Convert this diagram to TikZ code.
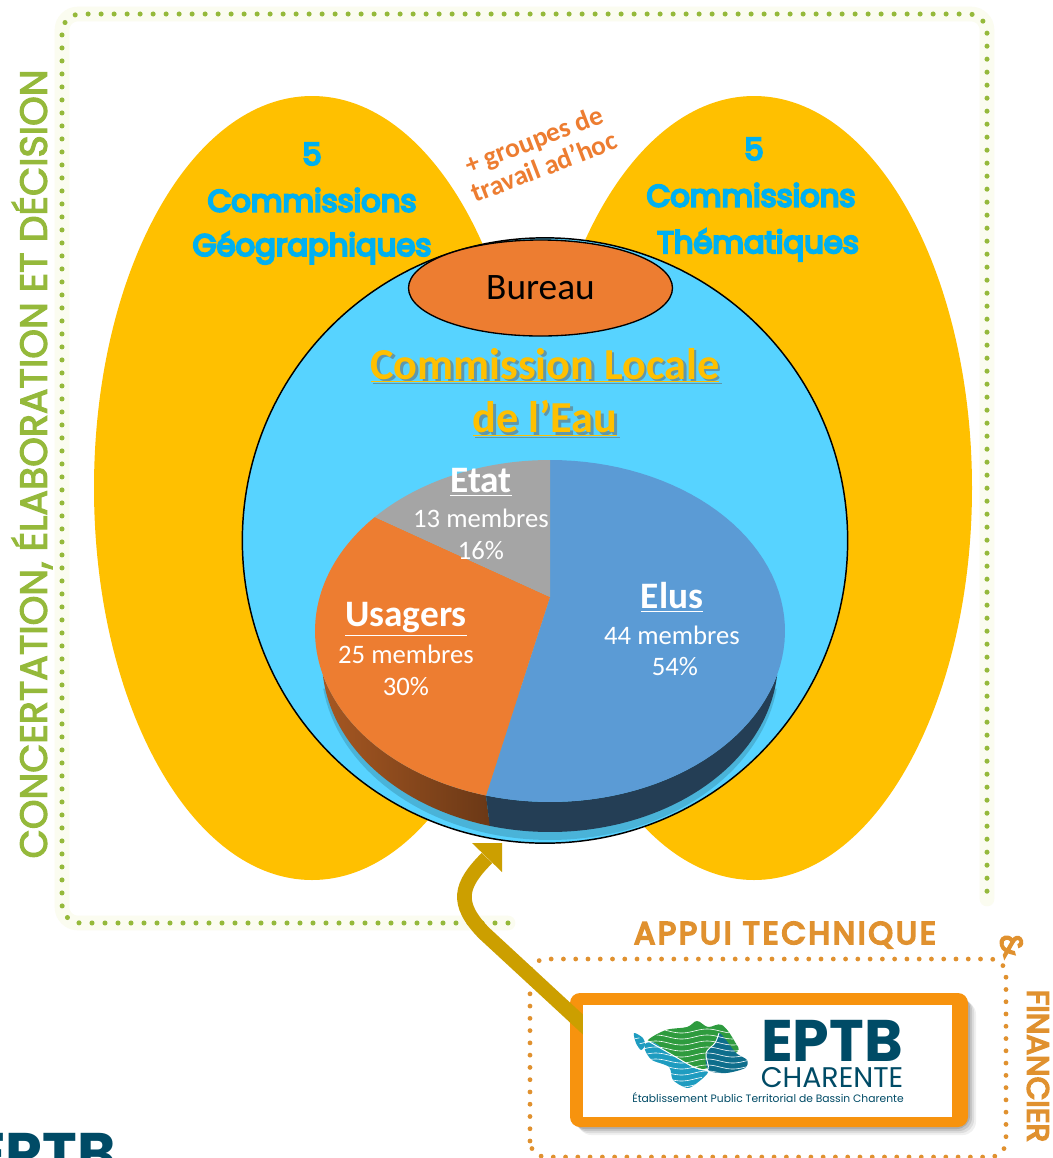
\documentclass[tikz,border=0pt]{standalone}
\usetikzlibrary{shapes.geometric}
\usepackage{fontspec}
\setmainfont{Carlito}
\newfontfamily\geo{Poppins}
\newfontfamily\geoC{Poppins}[FakeBold=7]
\newfontfamily\geoS{Poppins}[FakeBold=3]
\newfontfamily\geoA{Poppins}[FakeBold=6,LetterSpace=9]
\newfontfamily\geoF{Poppins}[FakeBold=5]
\newcommand\fsz[1]{\fontsize{#1}{#1}\selectfont}
\definecolor{gold}{HTML}{FFC000}
\definecolor{sky}{HTML}{57D3FF}
\definecolor{cyanT}{HTML}{00B0F0}
\definecolor{oran}{HTML}{ED7D31}
\definecolor{blueP}{HTML}{5B9BD5}
\definecolor{greyP}{HTML}{A5A5A5}
\definecolor{greenF}{HTML}{95B93B}
\definecolor{halo}{HTML}{FBFCF0}
\definecolor{oranF}{HTML}{E0912F}
\definecolor{arrowG}{HTML}{CC9F00}
\definecolor{boxO}{HTML}{F7930E}
\definecolor{teal}{HTML}{004B66}
\definecolor{shadowB}{HTML}{4AB3D8}
\definecolor{mapG}{HTML}{2E9B3E}
\definecolor{mapT}{HTML}{0E6E8C}
\definecolor{mapB}{HTML}{1E9CC0}
\tikzset{
  x=.75pt,y=-.75pt,
  lobe/.style={fill=gold,draw=none},
  comm/.style={text=cyanT,font=\geoC\fsz{23}},
  whiteB/.style={text=white,font=\bfseries\fsz{28}},
  whiteN/.style={text=white,font=\fsz{20}},
  clet/.style={text=gold,font=\bfseries\fsz{33.2}},
  cletS/.style={text=black!60,opacity=.55,font=\bfseries\fsz{33.2}},
  greendots/.style={draw=greenF,line width=3.8pt,line cap=round,dash pattern=on 0pt off 9.75pt},
  orandots/.style={draw=oranF,line width=3.6pt,line cap=round,dash pattern=on 0pt off 9.2pt},
  frametext/.style={text=greenF,font=\geoS\fsz{28.4}},
  apptext/.style={text=oranF,font=\geoA\fsz{23.5}},
  fintext/.style={text=oranF,font=\geoF\fsz{23}},
  topE/.style 2 args={insert path={-- plot[domain=#1:#2,samples=70,variable=\t] ({550+235*cos(\t)},{631+171*sin(\t)})}},
  lowE/.style 2 args={insert path={-- plot[domain=#1:#2,samples=70,variable=\t] ({550+228*cos(\t)},{660+172*sin(\t)})}},
}
\begin{document}
\begin{tikzpicture}
\useasboundingbox (0,0) rectangle (1053,1158);
\clip (0,0) rectangle (1053,1158);
\fill[white] (0,0) rectangle (1053,1158);
% green frame
\draw[draw=halo,line width=11pt,line cap=round,rounded corners=12pt]
  (508,923) -- (62,923) -- (62,14) -- (987,14) -- (987,899);
\draw[greendots,rounded corners=14pt] (508,923) -- (62,923) -- (62,14) -- (987,14) -- (987,899);
\node[frametext,rotate=90] (side) at (32,464) {CONCERTATION, ÉLABORATION ET DÉCISION};
% lobes
\node[lobe,ellipse,minimum width=327pt,minimum height=588pt,inner sep=0pt] (geoL) at (312,488) {};
\node[lobe,ellipse,minimum width=327pt,minimum height=588pt,inner sep=0pt] (theR) at (754,488) {};
\node[comm] (g5) at (312,154) {5};
\node[comm] (g1) at (312,200) {Commissions};
\node[comm] (g2) at (312,248) {Géographiques};
\node[comm] (t5) at (754,149) {5};
\node[comm] (t1) at (751,195) {Commissions};
\node[comm] (t2) at (758,245) {Thématiques};
\node[text=oran,font=\bfseries\fsz{20.5},rotate=21,align=center,inner sep=0pt] (adhoc) at (539,153)
  {+ groupes de\\[1pt]travail ad’hoc};
% main circle
\node[circle,fill=sky,draw=black,line width=1.1pt,minimum size=454pt,inner sep=0pt] (cle) at (545,540.5) {};
\begin{scope}
  \clip (545,540.5) circle[radius=302];
  \fill[shadowB] plot[domain=8:172,samples=70,variable=\t] ({550+229*cos(\t)},{664+176*sin(\t)}) -- cycle;
\end{scope}
% pie sides
\shade[left color=oran!70!black,right color=oran!45!black] (323,675) [lowE={175}{105.3}] [topE={105.8}{165}] -- cycle;
\fill[color=blueP!40!black] (777,675) [topE={15}{105.8}] [lowE={105.3}{5}] -- cycle;
% pie top
\coordinate (apex) at (550,597);
\fill[blueP] (apex) [topE={-90}{105.8}] -- cycle;
\fill[oran] (apex) [topE={105.8}{221.8}] -- cycle;
\fill[greyP] (apex) [topE={221.8}{270}] -- cycle;
% bureau
\node[ellipse,fill=oran,draw=black,line width=1pt,minimum width=198pt,minimum height=72pt,inner sep=0pt,
  font=\fsz{28},text=black] (bureau) at (540.5,288) {Bureau};
% title
\node[cletS] (c1s) at (547.5,367.5) {\underline{Commission Locale}};
\node[clet] (c1) at (545,365) {\underline{Commission Locale}};
\node[cletS] (c2s) at (547.5,420.5) {\underline{de l’Eau}};
\node[clet] (c2) at (545,418) {\underline{de l’Eau}};
% pie labels
\node[whiteB] (etat) at (481,482) {\underline{Etat}};
\node[whiteN] (etat1) at (481,518) {13 membres};
\node[whiteN] (etat2) at (481,551) {16\%};
\node[whiteB] (usa) at (406,619) {\underline{Usagers}};
\node[whiteN] (usa1) at (406,654) {25 membres};
\node[whiteN] (usa2) at (406,687) {30\%};
\node[whiteB] (elus) at (672,597) {\underline{Elus}};
\node[whiteN] (elus1) at (672,635) {44 membres};
\node[whiteN] (elus2) at (675,667) {54\%};
% appui zone
\node[apptext] (app) at (785,935) {APPUI TECHNIQUE};
\node[fintext,rotate=-75] (amp) at (1012,945) {\&};
\node[fintext,rotate=-90] (fin) at (1038,1066) {FINANCIER};
\draw[orandots,rounded corners=12pt] (530,1157) -- (530,959) -- (1006,959) -- (1006,1157) -- cycle;
% box shadow
\foreach \d/\o in {8/.06,6/.08,4/.1,2/.12}
  \fill[black,opacity=\o,rounded corners=10pt] (570+\d,993+\d) rectangle (968+\d,1127+\d);
\node[fill=boxO,rounded corners=7.5pt,minimum width=298.5pt,minimum height=100.5pt,inner sep=0pt] (box) at (769,1060) {};
% arrow
\coordinate (hook) at (487,858);
\coordinate (tail) at (590,1031);
\coordinate (bend) at (484,933);
\draw[arrowG,line width=11pt] (tail) -- (bend) .. controls (455,903) and (460,885) .. (hook);
\fill[arrowG] (472,843) coordinate (h1) -- (502,843) coordinate (h2) -- (502,872) coordinate (h3) -- cycle;
\node[fill=white,minimum width=276.75pt,minimum height=84pt,inner sep=0pt] (logo) at (767.5,1061) {};
% map
\fill[mapG] plot[smooth cycle,tension=.6] coordinates {(648,1040)(666,1030)(687,1027)(697,1021)(708,1027)(722,1025)(735,1042)(737,1052)(712,1060)(708,1068)(694,1067)(669,1053)(655,1043)};
\fill[mapB] plot[smooth cycle,tension=.5] coordinates {(646,1043)(655,1043)(669,1053)(694,1068)(708,1072)(697,1083)(687,1088)(673,1080)(669,1067)(652,1060)(645,1050)};
\fill[mapT] plot[smooth cycle,tension=.5] coordinates {(719,1033)(726,1040)(736,1053)(747,1060)(745,1068)(726,1073)(708,1070)(706,1053)(715,1043)};
\fill[mapB] plot[smooth cycle,tension=.5] coordinates {(634,1033)(643,1038)(645,1045)(641,1050)(636,1043)};
\begin{scope}
  \clip plot[smooth cycle,tension=.6] coordinates {(634,1036)(648,1040)(666,1030)(687,1027)(697,1021)(708,1027)(722,1025)(735,1042)(747,1060)(745,1068)(726,1073)(708,1072)(697,1083)(687,1088)(673,1080)(669,1067)(652,1060)(645,1050)};
  \foreach \yy in {1031,1037,...,1091}
    \draw[white,line width=.45pt] plot[domain=630:750,samples=60,variable=\t] ({\t},{\yy+2*sin(7*\t)});
\end{scope}
\draw[white,line width=.7pt] plot[smooth,tension=.6] coordinates {(648,1041)(669,1053)(694,1067)(708,1069)(706,1053)(715,1043)(719,1033)};
\node[text=teal,font=\geo\bfseries\fsz{44},inner sep=0pt] (eptb) at (832,1041) {EPTB};
\node[text=teal,font=\geo\fsz{21.3},inner sep=0pt] (char) at (832,1078) {CHARENTE};
\node[text=teal,font=\geo\fsz{8.05},inner sep=0pt] (etab) at (768,1098) {Établissement Public Territorial de Bassin Charente};
\node[text=teal,font=\geo\bfseries\fsz{44},anchor=base east,inner sep=0pt] (eptb2) at (116,1174) {EPTB};
\end{tikzpicture}
\end{document}
